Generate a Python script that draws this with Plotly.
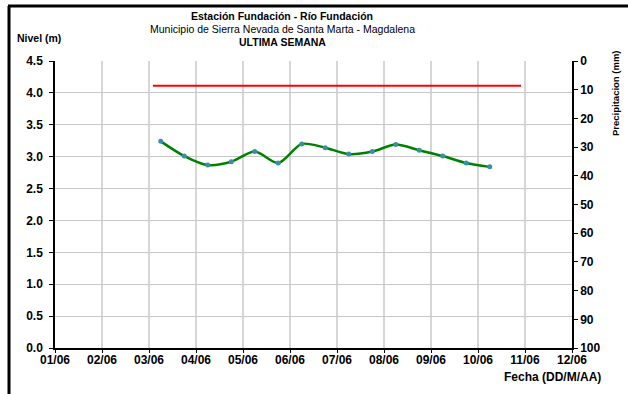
import plotly.graph_objects as go

# Nivel del rio cada 12 horas
fechas = ["2021-06-03 06:00", "2021-06-03 18:00", "2021-06-04 06:00", "2021-06-04 18:00",
          "2021-06-05 06:00", "2021-06-05 18:00", "2021-06-06 06:00", "2021-06-06 18:00",
          "2021-06-07 06:00", "2021-06-07 18:00", "2021-06-08 06:00", "2021-06-08 18:00",
          "2021-06-09 06:00", "2021-06-09 18:00", "2021-06-10 06:00"]
nivel = [3.24, 3.01, 2.87, 2.92, 3.08, 2.90, 3.20, 3.14, 3.04, 3.08, 3.19, 3.10, 3.01, 2.90, 2.84]

# nivel de alerta
alerta_fechas = ["2021-06-03 02:00", "2021-06-10 22:00"]
alerta_nivel = [4.11, 4.11]

dias = ["2021-06-%02d" % d for d in range(1, 13)]
dias_txt = ["%02d/06" % d for d in range(1, 13)]

FONT = "Liberation Sans, Arial, sans-serif"

fig = go.Figure()
fig.add_trace(go.Scatter(x=alerta_fechas, y=alerta_nivel, mode="lines",
                         line=dict(color="#ff0000", width=2), showlegend=False))
fig.add_trace(go.Scatter(x=fechas, y=nivel, mode="lines+markers",
                         line=dict(color="#008000", width=2.5, shape="spline", smoothing=0.8),
                         marker=dict(color="#3a8fa8", size=5), showlegend=False))
# eje de precipitacion (sin datos)
fig.add_trace(go.Scatter(x=[None], y=[None], yaxis="y2", showlegend=False))

tickfont = dict(family=FONT, size=12, color="black", weight="bold")

fig.update_layout(
    width=628, height=394,
    margin=dict(l=55, r=56, t=61, b=46),
    paper_bgcolor="white", plot_bgcolor="white",
    font=dict(family=FONT, color="black"),
    xaxis=dict(type="date", range=[dias[0], dias[-1]], tickvals=dias, ticktext=dias_txt,
               showgrid=True, gridcolor="#d6d6d6", gridwidth=1.5,
               showline=True, linecolor="black", linewidth=1.5,
               ticks="outside", ticklen=3, tickcolor="black", tickfont=tickfont,
               ticklabelstandoff=-3),
    yaxis=dict(range=[0, 4.5], dtick=0.5, tickformat=".1f",
               showgrid=True, gridcolor="#c8c8c8", gridwidth=1,
               showline=True, linecolor="black", linewidth=1.5, zeroline=False,
               ticks="outside", ticklen=4, tickcolor="black", tickfont=tickfont,
               ticklabelstandoff=4),
    yaxis2=dict(range=[100, 0], dtick=10, overlaying="y", side="right",
                showgrid=False, showline=True, linecolor="black", linewidth=1.5, zeroline=False,
                ticks="outside", ticklen=4, tickcolor="black", tickfont=tickfont),
)

W = 517.0
H = 287.0


def px(x):
    return (x - 55) / W


def py(y):
    return (348 - y) / H


annots = [
    ("Estación Fundación - Río Fundación", 282, 16, 10.5, "bold", "center"),
    ("Municipio de Sierra Nevada de Santa Marta - Magdalena", 282, 29, 10.5, "normal", "center"),
    ("ULTIMA SEMANA", 282, 42, 10.5, "bold", "center"),
    ("Nivel (m)", 15, 38, 10.5, "bold", "left"),
    ("Fecha (DD/M/AA)", 603, 377, 12, "bold", "right"),
]
for txt, x, y, s, w, anc in annots:
    fig.add_annotation(text=txt, x=px(x), y=py(y), xref="paper", yref="paper",
                       xanchor=anc, yanchor="middle", showarrow=False,
                       font=dict(family=FONT, size=s, color="black", weight=w))

fig.add_annotation(text="Precipitacion (mm)", x=px(615), y=py(93), xref="paper", yref="paper",
                   textangle=-90, showarrow=False, xanchor="center", yanchor="middle",
                   font=dict(family=FONT, size=9.5, color="black", weight="bold"))

# marco del grafico
fig.add_shape(type="line", xref="paper", yref="paper", x0=px(9), x1=px(9), y0=py(6), y1=py(400),
              line=dict(color="black", width=3))
fig.add_shape(type="line", xref="paper", yref="paper", x0=px(8), x1=px(640), y0=py(6), y1=py(6),
              line=dict(color="black", width=3))

# sin margen de pagina
fig.write_html("out.html", config={"displayModeBar": False},
               post_script="document.body.style.margin='0';")
